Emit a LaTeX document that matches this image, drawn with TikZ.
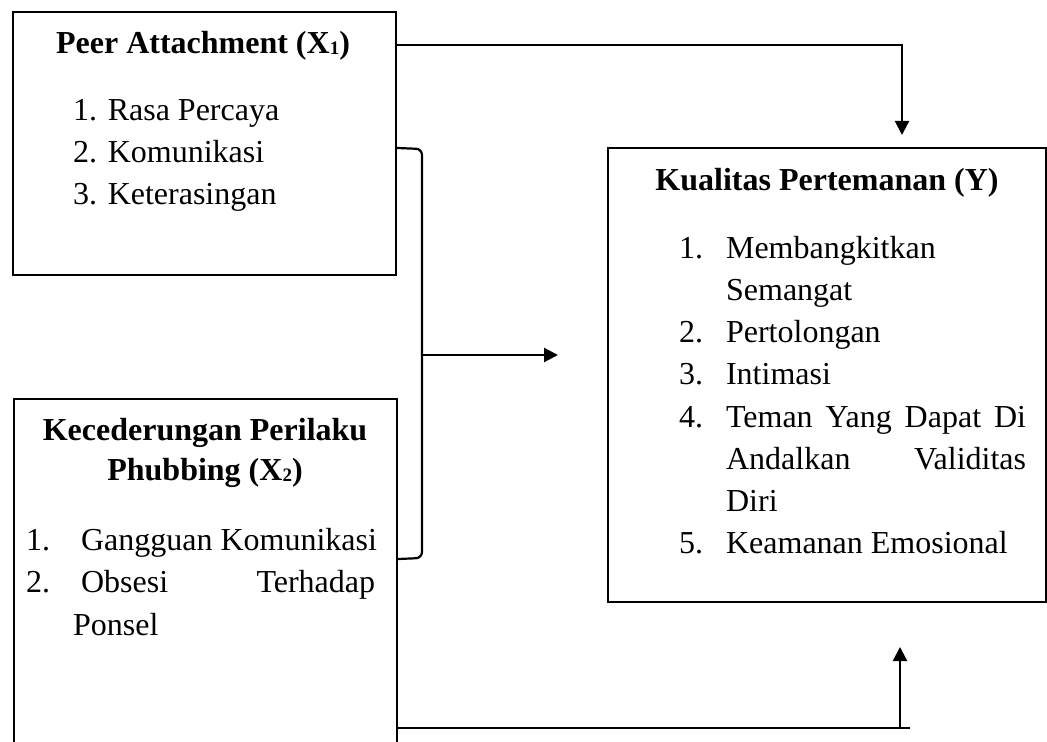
\documentclass[tikz,border=0pt]{standalone}
\usepackage{fontspec}
\setmainfont{Liberation Serif}
\usetikzlibrary{arrows.meta}

\newcommand{\lowsub}[1]{\raisebox{-0.5pt}{\fontsize{9.5}{9.5}\selectfont #1}}

\begin{document}
\begin{tikzpicture}[x=0.5pt, y=-0.5pt, line width=1.1pt, every node/.style={font=\fontsize{16}{21}\selectfont}]
    \tikzstyle{box}=[draw, rectangle, anchor=north west, inner sep=0pt]
    \tikzstyle{txt}=[anchor=base west, inner sep=0pt]
    \tikzstyle{ttl}=[anchor=base, inner sep=0pt, font=\fontsize{16}{21}\selectfont\bfseries]
    \tikzstyle{marrs}=[-{Triangle[length=7pt,width=7pt]}]

    \clip (0,0) rectangle (1047,742);

    % boxes
    \node[box, minimum width=191.5pt, minimum height=131.5pt] (xone) at (12,11) {};
    \node[box, minimum width=191.5pt, minimum height=200pt] (xtwo) at (13,398) {};
    \node[box, minimum width=219pt, minimum height=227pt] (kual) at (607,147) {};

    % Peer Attachment
    \node[ttl] (xonetitle) at (203,54) {Peer Attachment (X\lowsub{1})};
    \foreach \t [count=\i] in {Rasa Percaya, Komunikasi, Keterasingan} {
        \node[txt] (xone-\i) at (72,{121+42*(\i-1)}) {\i. \t};
    }

    % Phubbing
    \node[ttl] (xtwotitle) at (205,440) {Kecederungan Perilaku};
    \node[ttl] (xtwotitleb) at (205,480) {Phubbing (X\lowsub{2})};
    \node[txt] (xtwo-1) at (25,550) {\makebox[27.5pt][l]{1.}Gangguan Komunikasi};
    \node[txt] (xtwo-2) at (25,592) {\makebox[27.5pt][l]{2.}\makebox[147pt][s]{Obsesi Terhadap}};
    \node[txt] (xtwo-2b) at (72,635) {Ponsel};

    % Kualitas Pertemanan
    \node[ttl] (kualtitle) at (827,191) {Kualitas Pertemanan (Y)};
    \foreach \n/\t/\y in {1./Membangkitkan/259, /Semangat/301, 2./Pertolongan/343, 3./Intimasi/385,
                          4./\makebox[150pt][s]{Teman Yang Dapat Di}/427, /\makebox[150pt][s]{Andalkan Validitas}/469,
                          /Diri/511, 5./Keamanan Emosional/553} {
        \node[txt] (kual-\y) at (678,\y) {\makebox[23.5pt][l]{\n}\t};
    }

    % connectors
    \coordinate (topin) at (902,135);
    \coordinate (brtop) at (422,149);
    \coordinate (brbot) at (422,558);
    \coordinate (brmid) at (422,355);
    \coordinate (midin) at (558,355);
    \coordinate (botrun) at (910,728);
    \coordinate (botin) at (900,647);

    \draw[marrs] (xone.north east |- 0,45) -| (topin);
    \draw[rounded corners=3pt] (xone.east |- 0,148) -- (brtop) -- (brbot) -- (xtwo.east |- 0,559);
    \draw[marrs] (brmid) -- (midin);
    \draw (xtwo.east |- botrun) -- (botrun);
    \draw[marrs] (botin |- botrun) -- (botin);

\end{tikzpicture}
\end{document}
